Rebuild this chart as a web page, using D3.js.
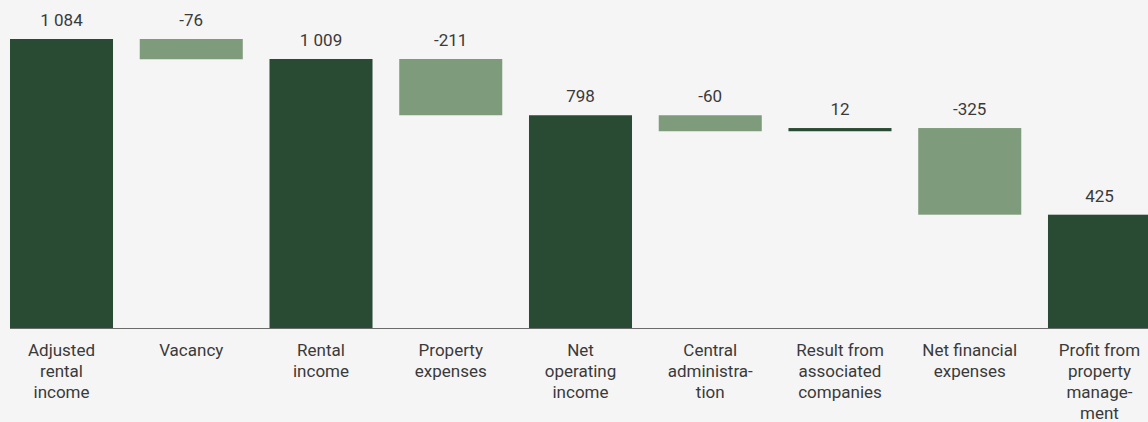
<!DOCTYPE html>
<html>
<head>
<meta charset="utf-8">
<script src="https://cdn.jsdelivr.net/npm/d3@7"></script>
<style>
  html, body { margin: 0; padding: 0; background: #f5f5f5; }
  svg { display: block; }
  text { font-family: Roboto, "Liberation Sans", sans-serif; fill: #3a3a3a; }
</style>
</head>
<body>
<svg id="chart" width="1148" height="422"></svg>
<script>
// Profit from property management bridge (SEK m)
const categories = [
  "Adjusted rental income", "Vacancy", "Rental income", "Property expenses",
  "Net operating income", "Central administration", "Result from associated companies",
  "Net financial expenses", "Profit from property management"
];
const categoryLines = [
  ["Adjusted", "rental", "income"],
  ["Vacancy"],
  ["Rental", "income"],
  ["Property", "expenses"],
  ["Net", "operating", "income"],
  ["Central", "administra-", "tion"],
  ["Result from", "associated", "companies"],
  ["Net financial", "expenses"],
  ["Profit from", "property", "manage-", "ment"]
];
const values = [1084, -76, 1009, -211, 798, -60, 12, -325, 425];
const kinds = ["total", "delta", "total", "delta", "total", "delta", "delta", "delta", "total"];
const valueLabels = ["1 084", "-76", "1 009", "-211", "798", "-60", "12", "-325", "425"];

// running levels: totals reset the level, deltas float from the previous level
let level = 0;
const bars = values.map((v, i) => {
  let y0, y1;
  if (kinds[i] === "total") { y0 = 0; y1 = v; level = v; }
  else { y0 = level; y1 = level + v; level = y1; }
  return { cat: categories[i], lines: categoryLines[i], v, kind: kinds[i], label: valueLabels[i],
           lo: Math.min(y0, y1), hi: Math.max(y0, y1) };
});

const svg = d3.select("#chart");
const baseY = 328;

const x = d3.scaleBand()
  .domain(categories)
  .range([10, 1151])
  .paddingInner(0.206)
  .paddingOuter(0);

const y = d3.scaleLinear()
  .domain([0, 1084])
  .range([baseY, 39]);

const colors = { total: "#2a4b33", delta: "#7e9b7b" };

svg.selectAll("rect.bar")
  .data(bars)
  .join("rect")
  .attr("class", "bar")
  .attr("x", d => x(d.cat))
  .attr("width", x.bandwidth())
  .attr("y", d => y(d.hi))
  .attr("height", d => y(d.lo) - y(d.hi))
  .attr("fill", d => d.v > 0 && d.kind === "delta" ? colors.total : colors[d.kind]);

// axis baseline
svg.append("line")
  .attr("x1", 10).attr("x2", 1148)
  .attr("y1", baseY + 0.5).attr("y2", baseY + 0.5)
  .attr("stroke", "#6b6b6b").attr("stroke-width", 1);

// value labels above each bar
svg.selectAll("text.value")
  .data(bars)
  .join("text")
  .attr("class", "value")
  .attr("x", d => x(d.cat) + x.bandwidth() / 2)
  .attr("y", d => y(d.hi) - 13)
  .attr("text-anchor", "middle")
  .style("font-size", "17px")
  .text(d => d.label);

// category labels below the axis
const catG = svg.selectAll("g.cat")
  .data(bars)
  .join("g")
  .attr("class", "cat")
  .attr("transform", d => `translate(${x(d.cat) + x.bandwidth() / 2},356)`);

catG.selectAll("text")
  .data(d => d.lines)
  .join("text")
  .attr("y", (d, i) => i * 21)
  .attr("text-anchor", "middle")
  .style("font-size", "17px")
  .text(d => d);
</script>
</body>
</html>
